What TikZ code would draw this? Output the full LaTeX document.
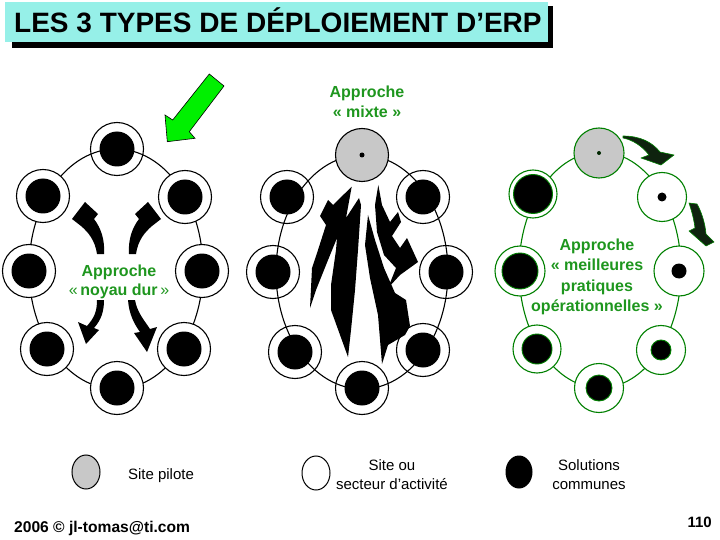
\documentclass[tikz,border=0pt]{standalone}
\usepackage{fontspec}
\setmainfont{Liberation Sans}
\usetikzlibrary{arrows.meta,shapes.geometric}
\definecolor{titlecyan}{RGB}{150,240,232}
\definecolor{txtgreen}{RGB}{30,150,30}
\definecolor{ringgreen}{RGB}{0,128,0}
\definecolor{pilotgray}{RGB}{200,200,200}
\definecolor{arrowgreen}{RGB}{0,240,0}
\definecolor{darkarrow}{RGB}{15,35,15}
\begin{document}
\begin{tikzpicture}[x=1pt,y=-1pt,
  ring/.style={circle,draw=black,fill=white,line width=1.1pt,minimum size=#1,inner sep=0pt},
  core/.style={circle,fill=black,minimum size=#1,inner sep=0pt},
  pilot/.style={circle,draw=black,fill=pilotgray,line width=1.1pt,minimum size=#1,inner sep=0pt},
  gring/.style={circle,draw=ringgreen,fill=white,line width=1.1pt,minimum size=#1,inner sep=0pt},
  gcore/.style={circle,draw=ringgreen,fill=black,line width=0.9pt,minimum size=#1,inner sep=0pt},
  gpilot/.style={circle,draw=ringgreen,fill=pilotgray,line width=1.1pt,minimum size=#1,inner sep=0pt},
  orbit/.style={line width=1.1pt},
  gtext/.style={text=txtgreen,font=\fontsize{16}{19.5}\selectfont\bfseries,align=center,inner sep=0pt},
  legtext/.style={font=\fontsize{15}{19}\selectfont,align=center,inner sep=0pt},
  swoosh/.style={fill=black},
  dswoosh/.style={fill=darkarrow,draw=ringgreen,line width=0.6pt,line join=round},
  lightning/.style={fill=black}
]
\useasboundingbox (0,0) rectangle (720,540);
% title
\fill[black] (12,6) rectangle (553,48);
\fill[titlecyan] (5,2) rectangle (548,42);
\node[anchor=base west,inner sep=0pt,font=\fontsize{28}{30}\selectfont\bfseries] (title) at (14,33) {LES 3 TYPES DE DÉPLOIEMENT D’ERP};

% green arrow
\filldraw[fill=arrowgreen,draw=black,line width=0.6pt]
  (167.3,141.7) -- (165,115) -- (172.7,120) -- (209.3,74) -- (224,86) -- (189.3,131.7) -- (195,138.3) -- cycle;

% ===== left diagram: noyau dur =====
\node[ring=53pt] (L1) at (117,149) {};
\draw[orbit] (116,269) ellipse [x radius=87pt, y radius=120pt];
\node[core=35pt] (L1c) at (L1) {};
\foreach \n/\x/\y in {2/43/196, 3/185/197, 4/29/271, 5/202/271, 6/47/349, 7/184/349, 8/117/388}{
  \node[ring=53pt] (L\n) at (\x,\y) {};
  \node[core=35pt] (L\n c) at (L\n) {};
}
\node[gtext] (Ltxt) at (119,282) {Approche\\{\mdseries«}\,noyau dur\,{\mdseries»}};
% curved swoosh arrows
\fill[swoosh] (97,254) .. controls (95,240) and (88,232) .. (81,226) -- (72,219) -- (85,202) -- (98,214) -- (94,219) .. controls (101,228) and (105,240) .. (104,254) -- cycle;
\fill[swoosh] (136,254) .. controls (138,240) and (145,232) .. (152,226) -- (161,219) -- (148,202) -- (135,214) -- (139,219) .. controls (132,228) and (128,240) .. (129,254) -- cycle;
\fill[swoosh] (97,300) .. controls (97,312) and (94,318) .. (87,326) -- (78,322) -- (86,344) -- (99,330) -- (94,328) .. controls (101,320) and (104,312) .. (104,300) -- cycle;
\fill[swoosh] (128,300) .. controls (129,315) and (135,325) .. (140,332) -- (134,333) -- (147,352) -- (157,327) -- (150,329) .. controls (144,320) and (137,312) .. (135,300) -- cycle;

% ===== middle diagram: mixte =====
\node[gtext] (Mtxt) at (367,102) {Approche\\« mixte »};
\foreach \n/\x/\y in {2/287/197, 3/423/197, 4/273/272, 5/446/272, 6/295/352, 7/423/350, 8/362/388}{
  \node[ring=53pt] (M\n) at (\x,\y) {};
}
\draw[orbit] (362,272) ellipse [x radius=86pt, y radius=117pt];
\foreach \n in {2,...,8}{
  \node[core=35pt] (M\n c) at (M\n) {};
}
\node[pilot=53pt] (M1) at (362,155) {};
\node[core=5pt] (M1c) at (M1) {};
% lightning shapes
\fill[lightning] (351.7,186.7) -- (333,205) -- (328,200) -- (320,216) -- (326,225) -- (318,250) -- (312,268) -- (310,308) -- (316,290) -- (326,265) -- (337,238) -- (336,250) -- (331,285) -- (331,310) -- (348,357) -- (351,330) -- (355,290) -- (358,250) -- (361,205) -- (359,198) -- (346,218) -- cycle;
\fill[lightning] (378.3,185) -- (382,205) -- (390,222) -- (398,212) -- (401,222) -- (392,236) -- (400,248) -- (407,238) -- (418,262) -- (400,275) -- (388,288) -- (396,268) -- (384,255) -- (377,232) -- (375,205) -- cycle;
\fill[lightning] (368,215) -- (365,245) -- (370,278) -- (378,315) -- (382,364) -- (388,345) -- (405,335) -- (410,326) -- (406,300) -- (395,293) -- (384,268) -- (375,240) -- cycle;

% ===== right diagram: meilleures pratiques =====
\draw[orbit,ringgreen] (600,270) ellipse [x radius=81pt, y radius=118pt];
\node[gpilot=50pt] (R1) at (599,153) {};
\node[circle,fill=black!70!ringgreen,minimum size=4pt,inner sep=0pt] (R1c) at (R1) {};
\node[gring=49pt] (R2) at (662,197) {};
\node[core=9pt] (R2c) at (R2) {};
\node[gring=50pt] (R3) at (679,271) {};
\node[core=15pt] (R3c) at (R3) {};
\node[gring=49pt] (R4) at (661,350) {};
\node[gcore=20pt] (R4c) at (R4) {};
\node[gring=49pt] (R5) at (599,388) {};
\node[gcore=26pt] (R5c) at (R5) {};
\node[gring=48pt] (R6) at (537,349) {};
\node[gcore=30pt] (R6c) at (R6) {};
\node[gring=50pt] (R7) at (520,271) {};
\node[gcore=36pt] (R7c) at (R7) {};
\node[gring=48pt] (R8) at (533,194) {};
\node[gcore=39pt] (R8c) at (R8) {};
\node[gtext,font=\fontsize{16}{20.5}\selectfont\bfseries] (Rtxt) at (597,277) {Approche\\« meilleures\\pratiques\\opérationnelles »};
\filldraw[dswoosh] (623,136) .. controls (640,136) and (652,142) .. (660,152) -- (674,155) -- (661,165) -- (641,158) -- (649,155) .. controls (642,146) and (633,140) .. (623,138) -- cycle;
\filldraw[dswoosh] (689,203) .. controls (692,212) and (694,220) .. (695,228) -- (689,231) -- (706,246) -- (714,242) -- (706,234) .. controls (705,222) and (701,211) .. (697,204) -- cycle;

% ===== legend =====
\node[ellipse,draw=black,fill=pilotgray,line width=1pt,minimum width=28pt,minimum height=34pt,inner sep=0pt] (g1) at (86,472) {};
\node[legtext] (g1t) at (161,476) {Site pilote};
\node[ellipse,draw=black,fill=white,line width=1pt,minimum width=28pt,minimum height=34pt,inner sep=0pt] (g2) at (316,473) {};
\node[legtext] (g2t) at (392,475) {Site ou\\secteur d’activité};
\node[ellipse,fill=black,minimum width=27pt,minimum height=33pt,inner sep=0pt] (g3) at (519,472) {};
\node[legtext] (g3t) at (589,475) {Solutions\\communes};

% footer
\node[anchor=base west,inner sep=0pt,font=\fontsize{15.6}{18}\selectfont\bfseries] (foot) at (14,532) {2006 © jl-tomas@ti.com};
\node[anchor=base east,inner sep=0pt,font=\fontsize{15}{18}\selectfont\bfseries] (page) at (712,527) {110};
\end{tikzpicture}
\end{document}
